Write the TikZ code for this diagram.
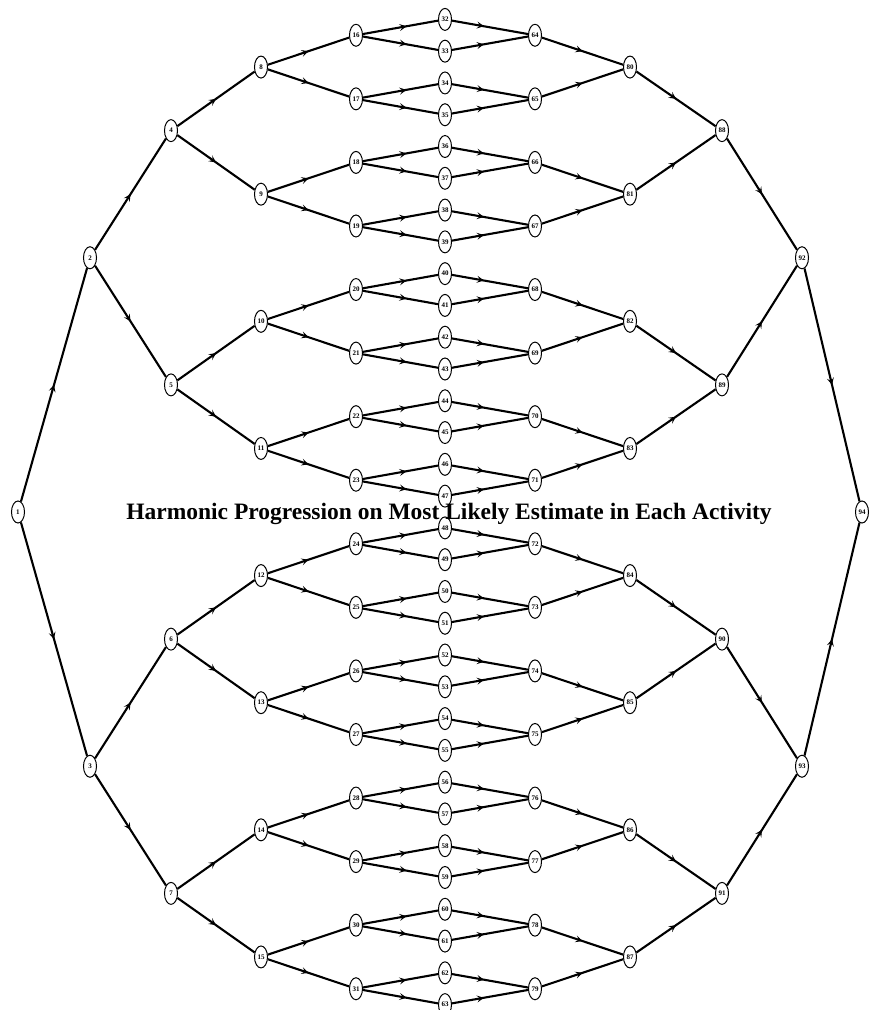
\documentclass[tikz,border=0pt]{standalone}
\usepackage{fontspec}
\setmainfont{Liberation Serif}
\usetikzlibrary{shapes.geometric, arrows.meta, decorations.markings, backgrounds}

\begin{document}
\begin{tikzpicture}[
    x=1pt, y=-1pt,
    every node/.style={font=\fontsize{7}{7}\selectfont\bfseries},
    event/.style={ellipse, draw=black, line width=1pt, fill=white, minimum width=13pt, minimum height=22pt, inner sep=0pt},
    act/.style={line width=2.1pt, black, postaction={decorate}, decoration={markings, mark=at position #1 with {\arrow{Stealth[length=7pt,width=7pt,inset=3pt]}}}},
    act/.default=0.5,
    heading/.style={font=\fontsize{23.5}{28}\selectfont\bfseries}
]
\useasboundingbox (0,0) rectangle (871,1010);

% Eventos: ramas que se abren (1 a 63)
\foreach \lvl/\xx in {0/18, 1/90, 2/171, 3/261, 4/356, 5/445} {
    \pgfmathtruncatemacro{\n}{2^\lvl}
    \pgfmathtruncatemacro{\last}{\n-1}
    \foreach \k in {0,...,\last} {
        \pgfmathtruncatemacro{\id}{\n+\k}
        \pgfmathsetmacro{\yy}{512+(\k-(\n-1)/2)*1017/\n}
        \node[event] (e\id) at (\xx,\yy) {\id};
    }
}

% Eventos: ramas que se cierran (64 a 94)
\foreach \lvl/\xx in {4/535, 3/630, 2/722, 1/802, 0/862} {
    \pgfmathtruncatemacro{\n}{2^\lvl}
    \pgfmathtruncatemacro{\last}{\n-1}
    \foreach \k in {0,...,\last} {
        \pgfmathtruncatemacro{\id}{96-2*\n+\k}
        \pgfmathsetmacro{\yy}{512+(\k-(\n-1)/2)*1017/\n}
        \node[event] (e\id) at (\xx,\yy) {\id};
    }
}

% Actividades
\begin{scope}[on background layer]
    \foreach \p in {1,...,31} {
        \pgfmathtruncatemacro{\ca}{2*\p}
        \pgfmathtruncatemacro{\cb}{2*\p+1}
        \pgfmathsetmacro{\pos}{\p>15 ? 0.58 : 0.5}
        \draw[act=\pos] (e\p) -- (e\ca);
        \draw[act=\pos] (e\p) -- (e\cb);
    }
    \foreach \s/\t/\m in {32/64/31, 64/80/15, 80/88/7, 88/92/3, 92/94/1} {
        \pgfmathsetmacro{\pos}{\s==32 ? 0.42 : 0.5}
        \foreach \k in {0,...,\m} {
            \pgfmathtruncatemacro{\a}{\s+\k}
            \pgfmathtruncatemacro{\b}{\t+floor(\k/2)}
            \draw[act=\pos] (e\a) -- (e\b);
        }
    }
\end{scope}

% Titulo
\node[heading] (title) at (449,514) {Harmonic Progression on Most Likely Estimate in Each Activity};

\end{tikzpicture}
\end{document}
